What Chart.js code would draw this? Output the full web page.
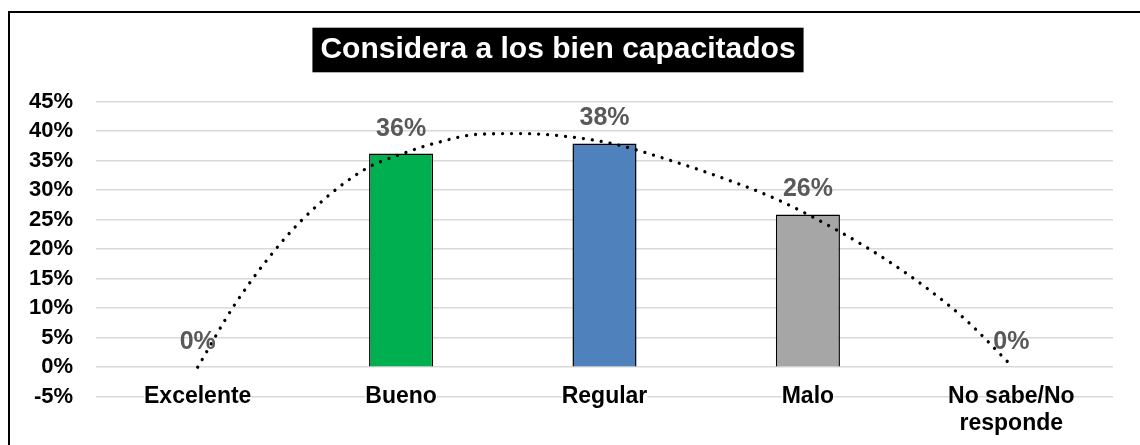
<!DOCTYPE html>
<html lang="es">
<head>
<meta charset="utf-8">
<title>Considera a los bien capacitados</title>
<script src="https://cdn.jsdelivr.net/npm/chart.js@4.4.1/dist/chart.umd.min.js"></script>
<style>
  html, body { margin: 0; padding: 0; background: #fff; overflow: hidden; }
  #marco { position: absolute; left: 8px; top: 11px; width: 1200px; height: 500px; border: 2px solid #000; }
  #grafico { position: absolute; left: 0; top: 0; }
</style>
</head>
<body>
<div id="marco"></div>
<canvas id="grafico" width="1140" height="445"></canvas>
<script>
const titulo = 'Considera a los bien capacitados';
const categorias = ['Excelente', 'Bueno', 'Regular', 'Malo', ['No sabe/No', 'responde']];
const porcentajes = [0, 36.2, 37.9, 25.9, 0];
const colores = ['#7f7f7f', '#00B050', '#4F81BD', '#A6A6A6', '#7f7f7f'];

// linea de tendencia (posicion de categoria, porcentaje)
const tendenciaX = [0, 0.18, 0.41, 0.6, 0.83, 1.0, 1.16, 1.39, 1.59, 1.79, 2.05, 2.31, 2.57, 2.85, 3.16, 3.39, 3.6, 3.78, 4.0];
const tendenciaY = [0, 10.5, 21.1, 27.8, 33.7, 36.1, 37.9, 39.5, 39.6, 39.2, 37.8, 35.2, 32.2, 28.4, 22.9, 18.1, 13.0, 7.9, 0.3];

const ejeMin = -5;
const ejeMax = 45;
const ejePaso = 5;

const fuente = '"Liberation Sans", Arial, sans-serif';
Chart.defaults.font.family = fuente;

// caja negra detras del titulo
const fondoTitulo = {
  id: 'fondoTitulo',
  beforeDraw(chart) {
    const tb = chart.titleBlock;
    if (!tb) return;
    const ctx = chart.ctx;
    ctx.save();
    ctx.font = 'bold 30px ' + fuente;
    const w = ctx.measureText(titulo).width;
    const cx = (tb.left + tb.right) / 2;
    const cy = tb.top + 32 + 18;
    ctx.fillStyle = '#000';
    ctx.fillRect(cx - w / 2 - 8, cy - 22.3, w + 16, 44.6);
    ctx.restore();
  }
};

// etiquetas de valor sobre cada barra
const etiquetas = {
  id: 'etiquetas',
  afterDatasetsDraw(chart) {
    const ctx = chart.ctx;
    const meta = chart.getDatasetMeta(1);
    ctx.save();
    ctx.font = 'bold 25px ' + fuente;
    ctx.fillStyle = '#595959';
    ctx.textAlign = 'center';
    ctx.textBaseline = 'middle';
    meta.data.forEach(function(bar, i) {
      ctx.fillText(Math.round(porcentajes[i]) + '%', bar.x, bar.y - 25);
    });
    ctx.restore();
  }
};

const ctx = document.getElementById('grafico').getContext('2d');
new Chart(ctx, {
  type: 'bar',
  data: {
    labels: categorias,
    datasets: [{
      type: 'line',
      data: tendenciaX.map((x, i) => ({ x: x, y: tendenciaY[i] })),
      xAxisID: 'xt',
      borderColor: '#000',
      borderWidth: 3.3,
      borderDash: [0.01, 9],
      borderCapStyle: 'round',
      cubicInterpolationMode: 'monotone',
      pointRadius: 0,
      fill: false,
      order: 0
    }, {
      data: porcentajes,
      xAxisID: 'x',
      grouped: false,
      backgroundColor: colores,
      borderColor: '#000',
      borderWidth: 1.5,
      categoryPercentage: 1,
      barPercentage: 0.315,
      order: 1
    }]
  },
  options: {
    responsive: false,
    animation: false,
    layout: { padding: { top: 0, left: 3, right: 27, bottom: 0 } },
    plugins: {
      legend: { display: false },
      tooltip: { enabled: false },
      title: {
        display: true,
        text: titulo,
        color: '#fff',
        font: { size: 30, weight: 'bold', lineHeight: 1.2 },
        padding: { top: 32, bottom: 33.7 }
      }
    },
    scales: {
      x: {
        type: 'category',
        offset: true,
        grid: { display: false, drawTicks: false },
        border: { display: false },
        ticks: {
          color: '#000',
          font: { size: 23, weight: 'bold', lineHeight: 1.2 },
          mirror: true,
          padding: -13.4,
          maxRotation: 0,
          autoSkip: false,
          z: 1,
          // el fondo blanco se repinta por linea y borraria la primera linea de una etiqueta doble
          showLabelBackdrop: c => !Array.isArray(categorias[c.index]),
          backdropColor: '#fff',
          backdropPadding: 0
        },
        afterFit(scale) { scale.height = 48.3; }
      },
      xt: {
        type: 'linear',
        display: false,
        offset: false,
        min: -0.5,
        max: 4.5
      },
      y: {
        min: ejeMin,
        max: ejeMax,
        grid: { color: '#d9d9d9', lineWidth: 1.5, drawTicks: false },
        border: { display: false },
        ticks: {
          stepSize: ejePaso,
          color: '#000',
          padding: 23,
          font: { size: 22, weight: 'bold' },
          callback: v => v + '%'
        },
        afterFit(scale) { scale.width = 93; }
      }
    }
  },
  plugins: [fondoTitulo, etiquetas]
});
</script>
</body>
</html>
